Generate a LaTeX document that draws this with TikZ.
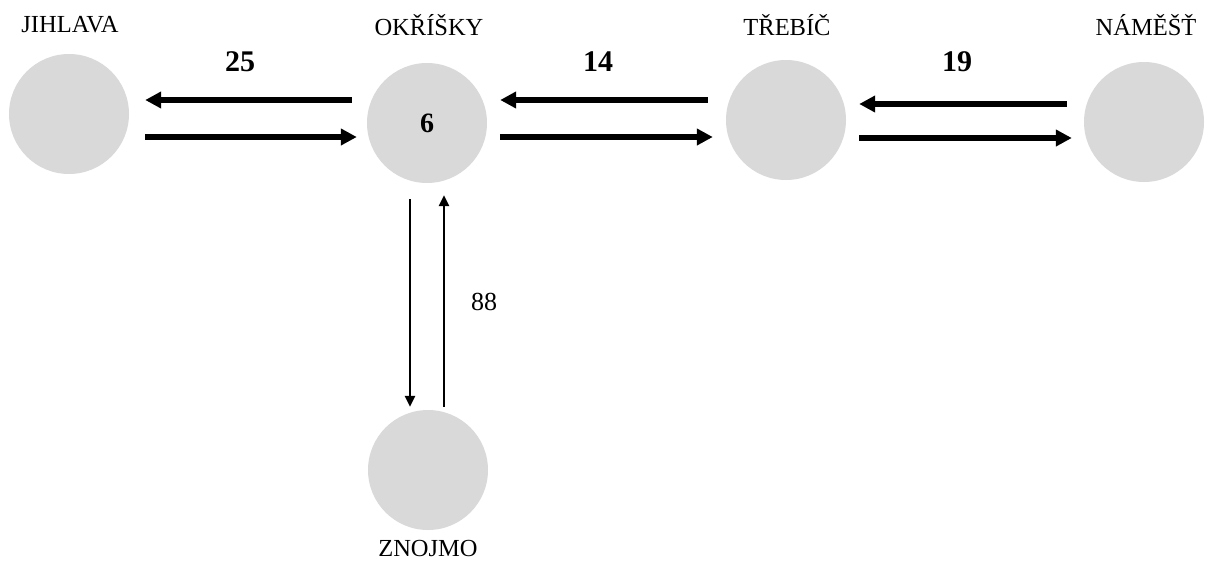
\documentclass[tikz,border=0pt]{standalone}
\usepackage{fontspec}
\setmainfont{Liberation Serif}
\usetikzlibrary{arrows.meta}
\definecolor{towngray}{HTML}{D9D9D9}
\tikzset{>=Triangle,
  town/.style={circle, fill=towngray, minimum size=120pt, inner sep=0pt, font=\fontsize{28}{32}\selectfont\bfseries},
  townname/.style={font=\fontsize{24.5}{29}\selectfont},
  amount/.style={font=\fontsize{30}{34}\selectfont\bfseries},
  fatflow/.style={-{Triangle[length=16pt,width=16pt]}, line width=5.5pt},
  thinflow/.style={-{Triangle[length=11pt,width=10pt]}, line width=2.5pt}}

\begin{document}
\begin{tikzpicture}[x=1pt,y=-1pt]
        \useasboundingbox (0,0) rectangle (1208,563);

        \node[town] (jihlava) at (69,114) {};
        \node[town] (okrisky) at (427,123) {6};
        \node[town] (trebic) at (786,120) {};
        \node[town] (namest) at (1144,122) {};
        \node[town] (znojmo) at (428,470) {};

        \node[townname] (jihlavaname) at (70,25) {JIHLAVA};
        \node[townname] (okriskyname) at (429,25) {OKŘÍŠKY};
        \node[townname] (trebicname) at (787,25) {TŘEBÍČ};
        \node[townname] (namestname) at (1146,25) {NÁMĚŠŤ};
        \node[townname] (znojmoname) at (428,549) {ZNOJMO};

        \node[amount] (n25) at (240,62) {25};
        \node[amount] (n14) at (598,62) {14};
        \node[amount] (n19) at (957,62) {19};
        \node[font=\fontsize{26}{30}\selectfont] (n88) at (484,302) {88};

        \draw [fatflow] ([shift={(-15,-23)}]okrisky.west) -- ([shift={(16,-14)}]jihlava.east);
        \draw [fatflow] ([shift={(16,23)}]jihlava.east) -- ([shift={(-10,14)}]okrisky.west);
        \draw [fatflow] ([shift={(-18,-20)}]trebic.west) -- ([shift={(13,-23)}]okrisky.east);
        \draw [fatflow] ([shift={(13,14)}]okrisky.east) -- ([shift={(-13,17)}]trebic.west);
        \draw [fatflow] ([shift={(-17,-18)}]namest.west) -- ([shift={(13,-16)}]trebic.east);
        \draw [fatflow] ([shift={(13,18)}]trebic.east) -- ([shift={(-12,16)}]namest.west);

        \draw [thinflow] ([shift={(-17,16)}]okrisky.south) -- ([shift={(-18,-3)}]znojmo.north);
        \draw [thinflow] ([shift={(16,-3)}]znojmo.north) -- ([shift={(17,12)}]okrisky.south);
\end{tikzpicture}
\end{document}
